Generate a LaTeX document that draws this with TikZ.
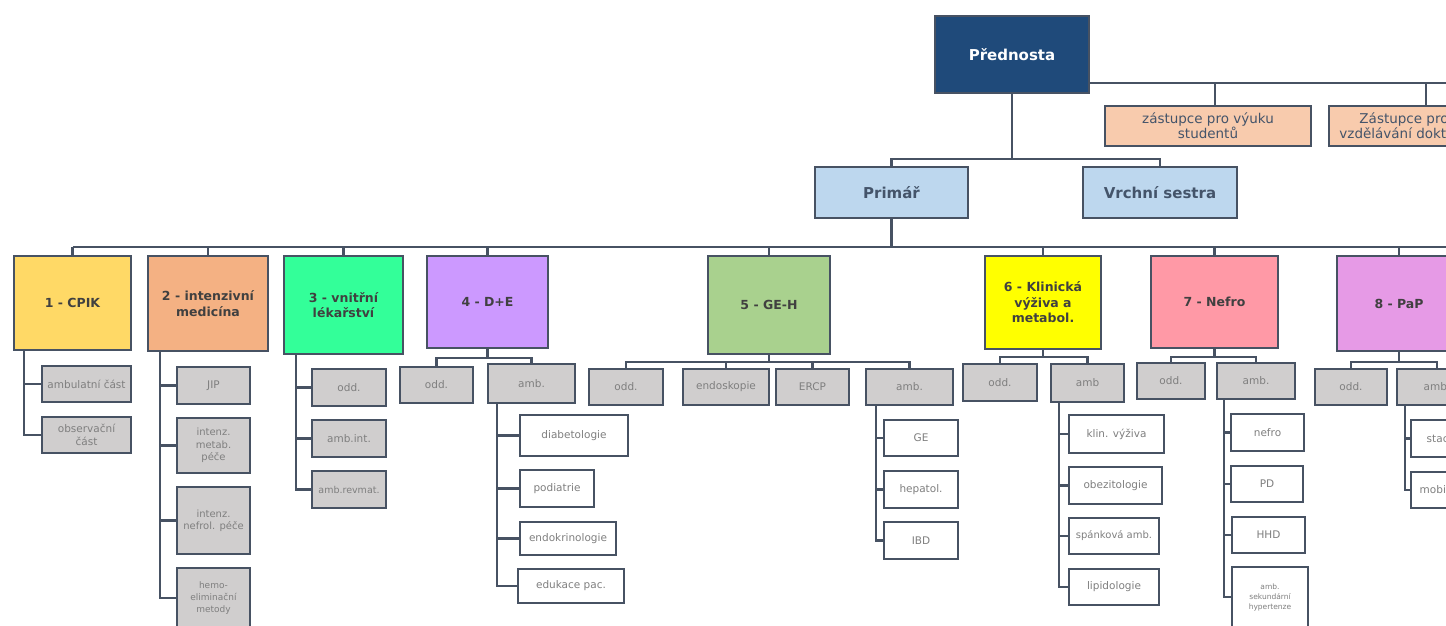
\documentclass[tikz,border=0pt]{standalone}
\usepackage{fontspec}
\setmainfont{DejaVu Sans}
\usepackage{tikz}

\definecolor{linec}{HTML}{475263}
\definecolor{headc}{HTML}{1F4A7A}
\definecolor{chiefc}{HTML}{BDD7EE}
\definecolor{deputyc}{HTML}{F8CBAD}
\definecolor{unitc}{HTML}{D0CECE}
\definecolor{darktext}{HTML}{404040}
\definecolor{slatetext}{HTML}{44546A}
\definecolor{greytext}{HTML}{7F7F7F}
\definecolor{dep1}{HTML}{FFD966}
\definecolor{dep2}{HTML}{F4B183}
\definecolor{dep3}{HTML}{33FF99}
\definecolor{dep4}{HTML}{CC99FF}
\definecolor{dep5}{HTML}{A9D18E}
\definecolor{dep6}{HTML}{FFFF00}
\definecolor{dep7}{HTML}{FF99A6}
\definecolor{dep8}{HTML}{E69AE6}

\tikzset{
  box/.style={draw=linec, line width=1.9pt, inner sep=1pt, outer sep=0pt, align=center, anchor=north west},
  head/.style={box, fill=headc, text=white, font=\fontsize{15}{17}\selectfont\bfseries},
  chief/.style={box, fill=chiefc, text=slatetext, font=\fontsize{15}{17}\selectfont\bfseries,
    minimum height=51pt},
  deputy/.style={box, fill=deputyc, text=slatetext, font=\fontsize{13.5}{15}\selectfont,
    minimum height=40pt},
  dept/.style={box, text=darktext, font=\fontsize{12.5}{15.5}\selectfont\bfseries},
  unit/.style={box, fill=unitc, text=greytext, font=\fontsize{10.5}{12.5}\selectfont,
    minimum height=36pt},
  leaf/.style={box, fill=white, text=greytext, font=\fontsize{10.5}{12.5}\selectfont,
    minimum height=36pt},
  link/.style={draw=linec, line width=2.2pt},
}

\begin{document}
\begin{tikzpicture}[x=1pt, y=-1pt]
\useasboundingbox (0,0) rectangle (1446,625);
\clip (0,0) rectangle (1446,625);

% Define coordinates
\coordinate (topend) at (1446,83);
\coordinate (bus0) at (0,159);
\coordinate (bus1) at (0,247);
\coordinate (busend) at (1446,247);

% top of the chart
\node[head, minimum width=154pt, minimum height=77pt] (pred) at (935,16) {Přednosta};
\node[deputy, minimum width=206pt] (zv) at (1105,106) {zástupce pro výuku\\studentů};
\node[deputy, minimum width=150pt] (zd) at (1329,106) {Zástupce pro\\vzdělávání doktorů};
\node[chief, minimum width=153pt] (prim) at (815,167) {Primář};
\node[chief, minimum width=154pt] (vs) at (1083,167) {Vrchní sestra};

\draw[link] ([yshift=10pt]pred.south east) -- (topend);
\draw[link] ([xshift=7pt]zv.north) -- ([xshift=7pt]zv.north |- topend);
\draw[link] ([xshift=22pt]zd.north) -- ([xshift=22pt]zd.north |- topend);
\draw[link] (pred.south) -- (pred.south |- bus0) -| (prim.north);
\draw[link] (pred.south |- bus0) -| (vs.north);

% departments
\node[dept, fill=dep1, minimum width=117pt, minimum height=94pt] (k1) at (14,256) {1 - CPIK};
\node[dept, fill=dep2, minimum width=120pt, minimum height=95pt] (k2) at (148,256) {2 - intenzivní\\medicína};
\node[dept, fill=dep3, minimum width=119pt, minimum height=98pt] (k3) at (284,256) {3 - vnitřní\\lékařství};
\node[dept, fill=dep4, minimum width=121pt, minimum height=92pt] (k4) at (427,256) {4 - D+E};
\node[dept, fill=dep5, minimum width=122pt, minimum height=98pt] (k5) at (708,256) {5 - GE-H};
\node[dept, fill=dep6, minimum width=116pt, minimum height=93pt] (k6) at (985,256) {6 - Klinická\\výživa a\\metabol.};
\node[dept, fill=dep7, minimum width=127pt, minimum height=92pt] (k7) at (1151,256) {7 - Nefro};
\node[dept, fill=dep8, minimum width=124pt, minimum height=95pt] (k8) at (1337,256) {8 - PaP};

\draw[link] (prim.south) -- (prim.south |- bus1);
\draw[link] (k1.north |- bus1) -- (busend);
\foreach \k in {k1,k2,k3,k4,k5,k6,k7,k8}
  \draw[link] (\k.north) -- (\k.north |- bus1);

% 1 - CPIK
\node[unit, minimum width=89pt] (k1a) at (42,366) {ambulatní část};
\node[unit, minimum width=89pt] (k1b) at (42,417) {observační\\část};
\foreach \n in {k1a,k1b}
  \draw[link] ([xshift=10pt]k1.south west) |- (\n.west);

% 2 - intenzivni medicina
\begin{scope}[every node/.style={minimum width=73pt}]
\node[unit, minimum height=37pt] (k2a) at (177,367) {JIP};
\node[unit, minimum height=55pt, font=\fontsize{10}{12.5}\selectfont] (k2b) at (177,418) {intenz.\\metab.\\péče};
\node[unit, minimum height=67pt, font=\fontsize{10}{12.5}\selectfont] (k2c) at (177,487) {intenz.\\nefrol. péče};
\node[unit, minimum height=60pt, font=\fontsize{9}{12}\selectfont] (k2d) at (177,568) {hemo-\\eliminační\\metody};
\end{scope}
\foreach \n in {k2a,k2b,k2c,k2d}
  \draw[link] ([xshift=12pt]k2.south west) |- (\n.west);

% 3 - vnitrni lekarstvi
\node[unit, minimum width=74pt, minimum height=37pt] (k3a) at (312,369) {odd.};
\node[unit, minimum width=74pt, minimum height=37pt] (k3b) at (312,420) {amb.int.};
\node[unit, minimum width=74pt, minimum height=37pt, font=\fontsize{9.5}{12}\selectfont] (k3c) at (312,471) {amb.revmat.};
\foreach \n in {k3a,k3b,k3c}
  \draw[link] ([xshift=12pt]k3.south west) |- (\n.west);

% 4 - D+E
\node[unit, minimum width=73pt] (k4o) at (400,367) {odd.};
\node[unit, minimum width=87pt, minimum height=39pt] (k4m) at (488,364) {amb.};
\foreach \n in {k4o,k4m}
  \draw[link] (k4.south) -- ++(0,10) -| (\n.north);
\node[leaf, minimum width=108pt, minimum height=41pt] (k4a) at (520,415) {diabetologie};
\node[leaf, minimum width=74pt, minimum height=37pt] (k4b) at (520,470) {podiatrie};
\node[leaf, minimum width=96pt, minimum height=33pt] (k4c) at (520,522) {endokrinologie};
\node[leaf, minimum width=106pt, minimum height=34pt] (k4d) at (518,569) {edukace pac.};
\foreach \n in {k4a,k4b,k4c,k4d}
  \draw[link] ([xshift=9pt]k4m.south west) |- (\n.west);

% 5 - GE-H
\node[unit, minimum width=74pt] (k5o) at (589,369) {odd.};
\node[unit, minimum width=86pt] (k5e) at (683,369) {endoskopie};
\node[unit, minimum width=73pt] (k5r) at (776,369) {ERCP};
\node[unit, minimum width=87pt] (k5m) at (866,369) {amb.};
\foreach \n in {k5o,k5e,k5r,k5m}
  \draw[link] (k5.south) -- ++(0,8) -| (\n.north);
\node[leaf, minimum width=74pt] (k5a) at (884,420) {GE};
\node[leaf, minimum width=74pt, minimum height=37pt] (k5b) at (884,471) {hepatol.};
\node[leaf, minimum width=74pt, minimum height=37pt] (k5c) at (884,522) {IBD};
\foreach \n in {k5a,k5b,k5c}
  \draw[link] ([xshift=10pt]k5m.south west) |- (\n.west);

% 6 - Klinicka vyziva
\node[unit, minimum width=74pt, minimum height=37pt] (k6o) at (963,364) {odd.};
\node[unit, minimum width=73pt, minimum height=38pt] (k6m) at (1051,364) {amb};
\foreach \n in {k6o,k6m}
  \draw[link] (k6.south) -- ++(0,8) -| (\n.north);
\node[leaf, minimum width=95pt, minimum height=38pt] (k6a) at (1069,415) {klin. výživa};
\node[leaf, minimum width=93pt, minimum height=37pt] (k6b) at (1069,467) {obezitologie};
\node[leaf, minimum width=90pt, font=\fontsize{10}{12}\selectfont] (k6c) at (1069,518) {spánková amb.};
\node[leaf, minimum width=90pt] (k6d) at (1069,569) {lipidologie};
\foreach \n in {k6a,k6b,k6c,k6d}
  \draw[link] ([xshift=8pt]k6m.south west) |- (\n.west);

% 7 - Nefro
\node[unit, minimum width=68pt] (k7o) at (1137,363) {odd.};
\node[unit, minimum width=78pt] (k7m) at (1217,363) {amb.};
\foreach \n in {k7o,k7m}
  \draw[link] (k7.south) -- ++(0,9) -| (\n.north);
\node[leaf, minimum width=73pt, minimum height=37pt] (k7a) at (1231,414) {nefro};
\node[leaf, minimum width=72pt] (k7b) at (1231,466) {PD};
\node[leaf, minimum width=73pt] (k7c) at (1232,517) {HHD};
\node[leaf, minimum width=76pt, minimum height=60pt, font=\fontsize{7.5}{10}\selectfont] (k7d) at (1232,567) {amb.\\sekundární\\hypertenze};
\foreach \n in {k7a,k7b,k7c,k7d}
  \draw[link] ([xshift=7pt]k7m.south west) |- (\n.west);

% 8 - PaP
\node[unit, minimum width=72pt] (k8o) at (1315,369) {odd.};
\node[unit, minimum width=80pt] (k8m) at (1397,369) {amb.};
\foreach \n in {k8o,k8m}
  \draw[link] (k8.south) -- ++(0,11) -| (\n.north);
\node[leaf, minimum width=80pt, minimum height=37pt] (k8a) at (1411,420) {stacionář};
\node[leaf, minimum width=80pt] (k8b) at (1411,472) {mobilní tým};
\foreach \n in {k8a,k8b}
  \draw[link] ([xshift=8pt]k8m.south west) |- (\n.west);

\end{tikzpicture}
\end{document}
